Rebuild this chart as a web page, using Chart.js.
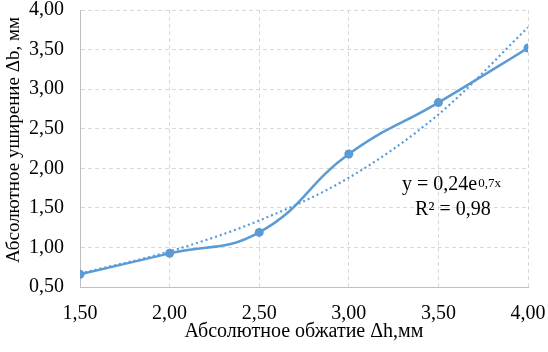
<!DOCTYPE html>
<html><head><meta charset="utf-8">
<script src="https://cdn.jsdelivr.net/npm/chart.js@4/dist/chart.umd.min.js"></script>
<style>html,body{margin:0;padding:0;background:#fff}#wrap{width:548px;height:352px}</style>
</head><body><div id="wrap"><canvas id="c" width="548" height="352"></canvas></div>
<script>
const xValues = [1.5, 2.0, 2.5, 3.0, 3.5, 4.0];
const yValues = [0.66, 0.925, 1.19, 2.18, 2.83, 3.52];
const trendValues = [0.67, 0.95, 1.34, 1.88, 2.68, 3.78];
const equationText = 'y = 0,24e';
const equationExp = '0,7x';
const r2Text = 'R² = 0,98';
const xTitle = 'Абсолютное обжатие Δh,мм';
const yTitle = 'Абсолютное уширение Δb, мм';

const blue = '#5b9bd5';
const fmt = v => v.toFixed(2).replace('.', ',');
const font = 'Liberation Serif';

const annot = {
  id: 'annot',
  afterDatasetsDraw(chart) {
    const ctx = chart.ctx, xs = chart.scales.x, ys = chart.scales.y;
    ctx.save();
    ctx.fillStyle = '#000';
    ctx.textBaseline = 'alphabetic';
    ctx.textAlign = 'left';
    ctx.font = '20px "' + font + '"';
    const x0 = xs.getPixelForValue(3.297);
    const yb = ys.getPixelForValue(1.725);
    ctx.fillText(equationText, x0, yb);
    const w = ctx.measureText(equationText).width;
    ctx.font = '13px "' + font + '"';
    ctx.fillText(equationExp, x0 + w + 1, yb - 3);
    ctx.font = '20px "' + font + '"';
    ctx.fillText(r2Text, xs.getPixelForValue(3.37), ys.getPixelForValue(1.41));
    // y axis title
    ctx.save();
    ctx.translate(14, 140);
    ctx.rotate(-Math.PI / 2);
    ctx.textAlign = 'center';
    ctx.textBaseline = 'middle';
    ctx.font = '19px "' + font + '"';
    ctx.fillText(yTitle, 0, 0);
    ctx.restore();
    ctx.restore();
  }
};

new Chart(document.getElementById('c'), {
  type: 'scatter',
  data: {
    datasets: [
      {
        data: xValues.map((x, i) => ({x, y: yValues[i]})),
        showLine: true,
        borderColor: blue,
        backgroundColor: blue,
        borderWidth: 2.5,
        pointRadius: 4.5,
        pointBorderWidth: 0,
        tension: 0.45,
        order: 1
      },
      {
        data: xValues.map((x, i) => ({x, y: trendValues[i]})),
        showLine: true,
        borderColor: blue,
        borderWidth: 2.2,
        borderDash: [2, 3],
        pointRadius: 0,
        cubicInterpolationMode: 'monotone',
        order: 2
      }
    ]
  },
  options: {
    responsive: false,
    animation: false,
    devicePixelRatio: 1,
    layout: { padding: { top: 10, right: 20, left: 0, bottom: 0 } },
    plugins: { legend: { display: false }, tooltip: { enabled: false } },
    scales: {
      x: {
        type: 'linear', min: 1.5, max: 4.0,
        afterFit: s => { s.height = 65; s.paddingLeft = 0; s.paddingRight = 0; },
        ticks: { stepSize: 0.5, callback: v => fmt(v), color: '#000', padding: 15,
                 font: { family: font, size: 20 } },
        grid: { color: '#d9d9d9', lineWidth: 1, drawTicks: false },
        border: { display: true, color: '#bfbfbf', width: 1, dash: [4, 3] },
        title: { display: true, text: xTitle, color: '#000', padding: { top: 0, bottom: 8 },
                 font: { family: font, size: 20 } }
      },
      y: {
        type: 'linear', min: 0.5, max: 4.0,
        afterFit: s => { s.width = 80; s.paddingTop = 0; s.paddingBottom = 0; },
        ticks: { stepSize: 0.5, callback: v => fmt(v), color: '#000', padding: 16,
                 font: { family: font, size: 20 } },
        grid: { color: '#d9d9d9', lineWidth: 1, drawTicks: false },
        border: { display: true, color: '#bfbfbf', width: 1, dash: [4, 3] },
        title: { display: false }
      }
    }
  },
  plugins: [annot]
});
</script></body></html>
